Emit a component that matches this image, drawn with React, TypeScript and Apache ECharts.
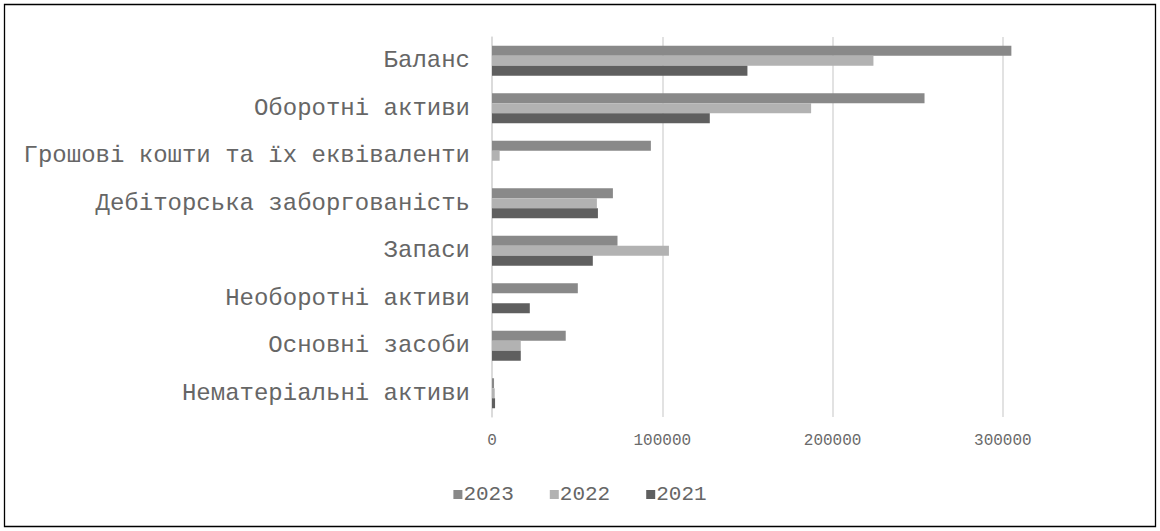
import React, { useEffect, useRef } from "react";
import * as echarts from "echarts";

const categories = [
  "Баланс",
  "Оборотні активи",
  "Грошові кошти та їх еквіваленти",
  "Дебіторська заборгованість",
  "Запаси",
  "Необоротні активи",
  "Основні засоби",
  "Нематеріальні активи",
];
const years = ["2023", "2022", "2021"];
const values2023 = [305000, 254000, 93300, 71000, 73700, 50400, 43300, 1200];
const values2022 = [224000, 187400, 4500, 61600, 103900, 0, 16900, 1600];
const values2021 = [150000, 127900, 0, 62200, 59200, 22200, 16900, 1800];
const colors = ["#898989", "#b2b2b2", "#5f5f5f"];

export default function App() {
  const ref = useRef<HTMLDivElement>(null);
  useEffect(() => {
    document.body.style.margin = "0";
    const chart = echarts.init(ref.current!, null, { renderer: "svg" });
    const font = "'Liberation Mono', 'Courier New', monospace";
    const seriesData = [values2023, values2022, values2021];
    chart.setOption({
      animation: false,
      backgroundColor: "#ffffff",
      textStyle: { fontFamily: font },
      graphic: [
        {
          type: "rect",
          shape: { x: 4.5, y: 4.5, width: 1151, height: 522 },
          style: { fill: "none", stroke: "#000000", lineWidth: 1.3 },
          silent: true,
        },
      ],
      grid: { left: 492, right: 72, top: 37, bottom: 114, containLabel: false },
      legend: {
        data: years,
        bottom: 21,
        left: "center",
        icon: "rect",
        itemWidth: 9,
        itemHeight: 9,
        itemGap: 36,
        textStyle: { fontFamily: font, fontSize: 21, color: "#666666", padding: [0, 0, 0, -4] },
      },
      xAxis: {
        type: "value",
        min: 0,
        max: 350000,
        interval: 50000,
        axisLine: { show: false },
        axisTick: { show: false },
        axisLabel: {
          margin: 16,
          fontFamily: font,
          fontSize: 16,
          color: "#6a6a6a",
          showMaxLabel: false,
          formatter: (v: number) => (v % 100000 === 0 ? String(v) : ""),
        },
        splitLine: {
          show: true,
          lineStyle: { color: ["#d9d9d9", "rgba(0,0,0,0)"], width: 1.5 },
        },
      },
      yAxis: {
        type: "category",
        inverse: true,
        data: categories,
        axisLine: { show: true, lineStyle: { color: "#d9d9d9", width: 1.5 } },
        axisTick: { show: false },
        axisLabel: {
          margin: 22,
          fontFamily: font,
          fontSize: 24,
          color: "#666666",
        },
      },
      series: years.map((y, i) => ({
        name: y,
        type: "bar",
        data: seriesData[i],
        barWidth: 10,
        barGap: "0%",
        itemStyle: { color: colors[i] },
      })),
    });
    return () => chart.dispose();
  }, []);
  return <div ref={ref} style={{ width: 1160, height: 531 }} />;
}
